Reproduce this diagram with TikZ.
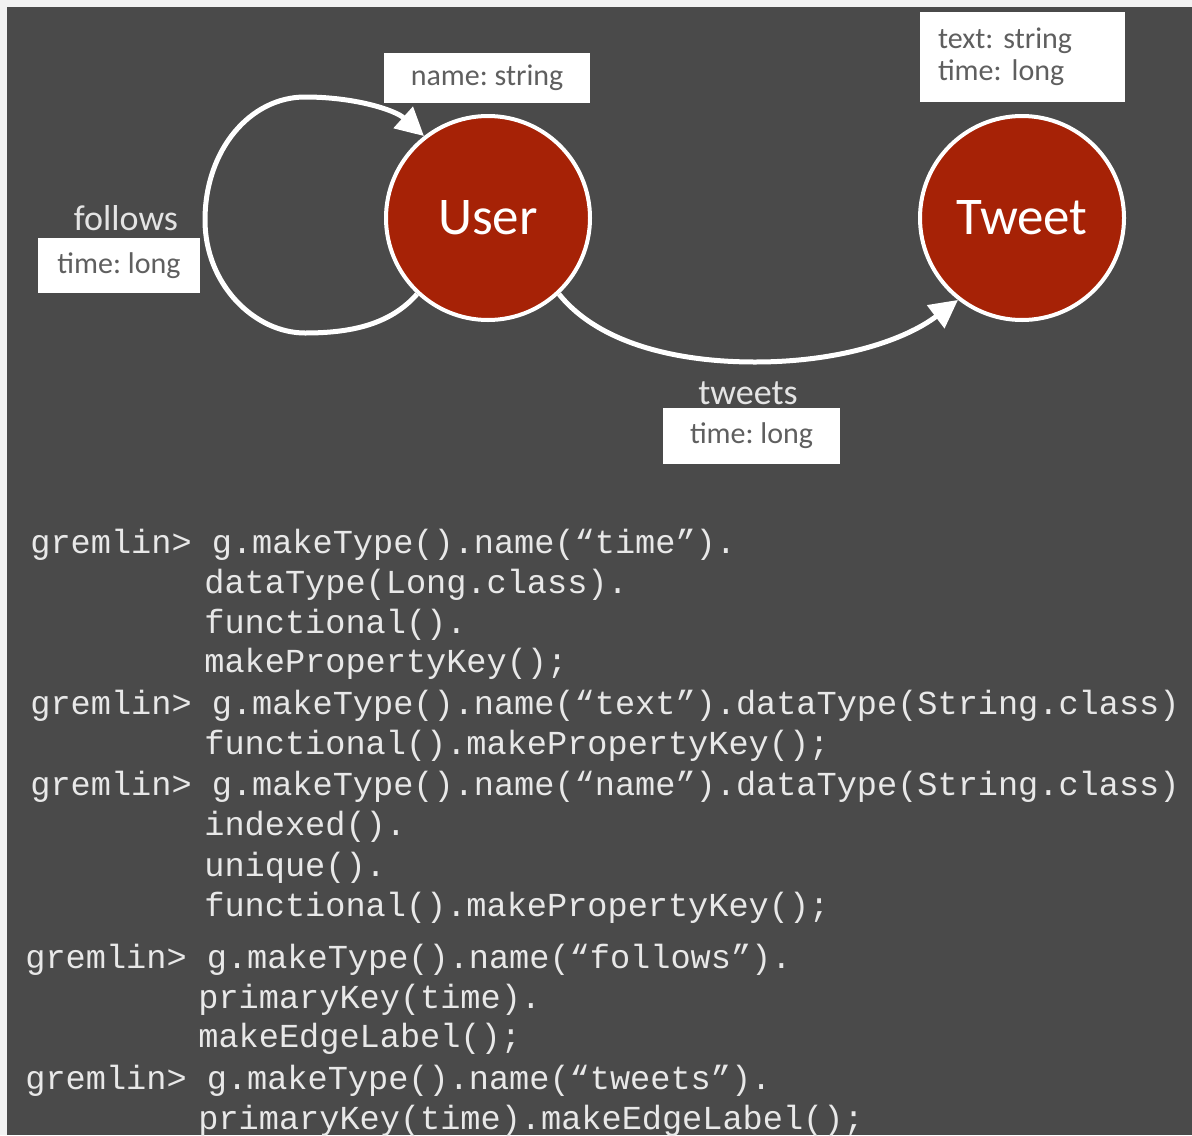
\documentclass[tikz,border=0pt]{standalone}
\usepackage{fontspec}
\setmainfont{Carlito}
\setmonofont{Liberation Mono}
\usetikzlibrary{arrows.meta}
\definecolor{bgdark}{RGB}{74,74,74}
\definecolor{bglight}{RGB}{242,242,242}
\definecolor{vred}{RGB}{166,34,6}
\definecolor{boxtext}{RGB}{95,95,95}
\definecolor{lbltext}{RGB}{228,228,228}
\definecolor{codetext}{RGB}{232,232,232}
\frenchspacing
\begin{document}
\begin{tikzpicture}[x=0.5pt,y=-0.5pt,
  vertex/.style={circle, draw=white, line width=2pt, fill=vred, minimum size=102pt, inner sep=0pt,
    text=white, font=\fontsize{26.5}{30}\selectfont},
  propbox/.style={draw=none, fill=white, text=boxtext, inner sep=0pt, font=\fontsize{15}{16}\selectfont},
  edgelbl/.style={text=lbltext, inner sep=0pt, font=\fontsize{18}{20}\selectfont},
  edge/.style={draw=white, line width=2.5pt, -{Triangle[length=14pt,width=14pt]}},
  code/.style={anchor=base west, inner sep=0pt, text=codetext, font=\fontsize{16.8}{20}\ttfamily}]
\useasboundingbox (0,0) rectangle (1192,1135);
\fill[bglight] (0,0) rectangle (1192,1135);
\fill[bgdark] (7,7) rectangle (1192,1135);

% vertices
\node[vertex] (user) at (488,218) {User};
\node[vertex] (tweet) at (1022,218) {Tweet};

% property boxes
\node[propbox, minimum width=103pt, minimum height=25pt] (namebox) at (487,78) {name: string};
\node[propbox, minimum height=45pt, inner xsep=9pt, text width=84.5pt, align=left,
  font=\fontsize{15}{16}\selectfont] (tweetbox) at (1022.5,57) {text: string\\time: long};
\node[propbox, minimum width=81pt, minimum height=27.5pt] (followbox) at (119,265.5) {time: long};
\node[propbox, minimum width=88.5pt, minimum height=28pt] (tweetsbox) at (751.5,436) {time: long};

% edge labels
\node[edgelbl] (followslbl) at (126,218) {follows};
\node[edgelbl] (tweetslbl) at (748,393) {tweets};

% follows self-loop
\draw[edge] (user.227) .. controls (390,325) and (350,333) .. (305,333)
  .. controls (255,333) and (205,285) .. (205,220)
  .. controls (205,150) and (250,97) .. (305,97)
  .. controls (355,97) and (395,110) .. (user.128);

% tweets edge
\draw[edge] (user.-47) .. controls (600,345) and (680,362) .. (755,362)
  .. controls (840,362) and (905,340) .. (tweet.232);

% code
\node[code] (c1) at (30,553) {gremlin> g.makeType().name(“time”).};
\node[code] (c2) at (204,593) {dataType(Long.class).};
\node[code] (c3) at (204,633) {functional().};
\node[code] (c4) at (204,672) {makePropertyKey();};
\node[code] (c5) at (30,714) {gremlin> g.makeType().name(“text”).dataType(String.class)};
\node[code] (c6) at (204,754) {functional().makePropertyKey();};
\node[code] (c7) at (30,795) {gremlin> g.makeType().name(“name”).dataType(String.class)};
\node[code] (c8) at (204,835) {indexed().};
\node[code] (c9) at (204,876) {unique().};
\node[code] (c10) at (204,916) {functional().makePropertyKey();};
\node[code] (c11) at (25,968) {gremlin> g.makeType().name(“follows”).};
\node[code] (c12) at (198,1008) {primaryKey(time).};
\node[code] (c13) at (198,1047) {makeEdgeLabel();};
\node[code] (c14) at (25,1089) {gremlin> g.makeType().name(“tweets”).};
\node[code] (c15) at (198,1129) {primaryKey(time).makeEdgeLabel();};
\end{tikzpicture}
\end{document}
